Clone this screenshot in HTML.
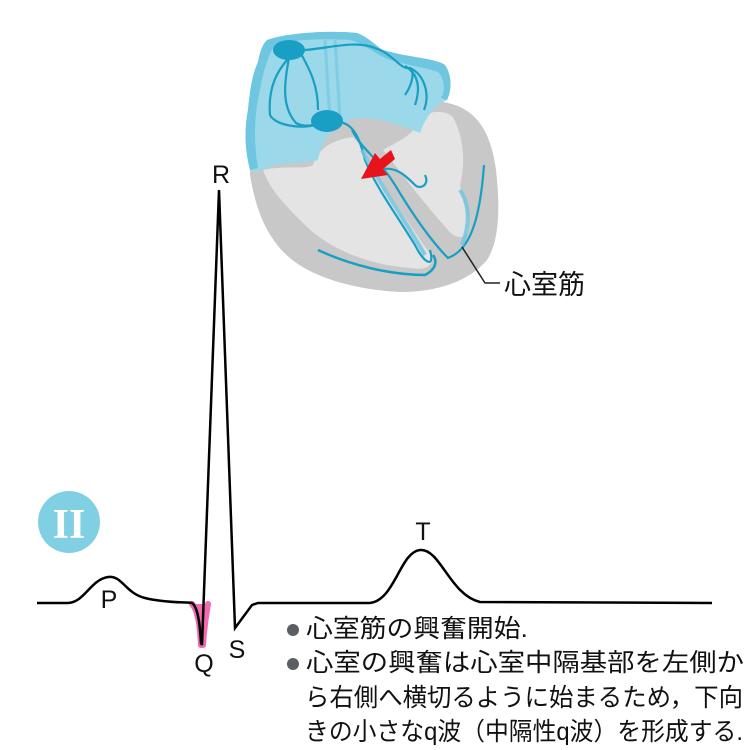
<!DOCTYPE html>
<html><head><meta charset="utf-8"><style>html,body{margin:0;padding:0;background:#fff}svg{display:block}</style></head><body>
<svg width="750" height="750" viewBox="0 0 750 750" xmlns="http://www.w3.org/2000/svg" font-family="'Liberation Sans','Noto Sans CJK JP',sans-serif">
<path d="M250,175 L252,120 L300,105 L420,100 C440,100 455,104 462,108 C482,118 492,140 496,170 C500,205 500,240 487,260 C470,280 440,292 400,292 C360,290 320,280 295,262 C265,240 255,205 250,175 Z" fill="#c8c8c8"/>
<path d="M263,170 C285,165 305,170 313,165 C318,150 330,140 353,137 C365,150 372,165 380,180 C400,210 420,240 433,258 C430,268 425,270 410,268 C370,265 330,250 305,225 C285,205 270,190 263,170 Z" fill="#e4e4e4"/>
<path d="M383,150 C400,140 415,135 420,118 C430,110 445,110 453,117 C465,140 465,165 460,185 C462,200 470,215 468,232 C462,240 455,238 448,230 C430,210 410,185 395,165 Z" fill="#e4e4e4"/>
<path d="M267,40 C285,33 330,30 357,33 C370,38 378,48 383,50 C410,58 435,58 445,65 C452,75 452,90 447,100 C435,105 425,118 420,133 C400,125 380,118 360,118 C335,120 322,140 318,160 C300,165 280,160 258,172 L250,170 C245,150 244,130 248,110 C250,90 252,75 258,62 C260,52 262,45 267,40 Z" fill="#9bd8ea"/>
<path d="M267,40 C285,33 330,30 357,33 C370,38 378,48 383,50 C410,58 435,58 445,65 C452,75 452,90 447,100 L441,98 C446,90 444,78 438,72 C420,66 400,64 385,58 C370,50 360,42 350,40 C320,38 290,40 275,45 C265,60 262,80 258,100 C254,120 254,145 258,168 L250,170 C245,150 244,130 248,110 C250,90 252,75 258,62 C260,52 262,45 267,40 Z" fill="#6ec6e0"/>
<path d="M325,40 L330,120 M335,40 L340,118" stroke="#7fcde4" stroke-width="3" fill="none"/>
<g stroke="#1a9fc4" fill="none" stroke-width="2.2">
<path d="M290,52 C285,80 280,105 296,123 C305,128 315,125 322,122"/>
<path d="M300,52 C310,70 318,85 318,110"/>
<path d="M295,52 C275,70 268,90 270,115 C275,125 300,130 320,124"/>
<path d="M305,50 C330,48 355,40 375,48 C395,55 400,70 410,68 C415,72 412,85 405,95"/>
<path d="M405,66 C420,75 420,90 415,105 M410,68 C425,75 430,95 424,110"/>
<path d="M340,122 C355,125 360,140 365,160 C375,185 390,205 415,245 C425,265 435,268 430,250"/>
<path d="M352,130 C362,150 380,160 395,185 C410,210 430,240 448,258 C470,250 480,220 484,165"/>
<path d="M378,170 C395,165 405,175 415,185 C420,190 430,185 425,175"/>
<path d="M318,250 C350,265 390,275 425,275 C435,270 438,262 433,255" stroke-width="2.5"/>
</g>
<g stroke="#6ec6e0" fill="none" stroke-width="4" opacity="0.8">
<path d="M362,150 C380,185 405,220 425,255"/>
<path d="M460,190 C470,205 470,225 462,245"/>
</g>
<ellipse cx="289" cy="50" rx="16" ry="10" fill="#1a9fc4"/>
<ellipse cx="327" cy="121" rx="16" ry="11" fill="#1a9fc4"/>
<path d="M391,150 L380,159 L375,153 L361,179 L388,175 L383,169 L395,159 Z" fill="#e8141c"/>
<path d="M462,247 L485,283 L500,283" stroke="#222" stroke-width="1.5" fill="none"/>
<text x="504" y="294" font-size="27" fill="#111">心室筋</text>
<circle cx="69" cy="522" r="31" fill="#80cfe2"/>
<text x="69" y="538" font-size="42" text-anchor="middle" fill="#fff" font-family="'Liberation Serif',serif" font-weight="bold">II</text>
<path d="M192,604 C198,610 200,625 201,645 M208,604 C206,615 204,630 203,645" stroke="#f06ab0" stroke-width="6" fill="none" stroke-linecap="round"/>
<path d="M194,604 L207,604 L203,645 L200,645 Z" fill="#f06ab0"/>
<path d="M37,603 L68,603 C85,602 90,580 108,577 C122,575 125,593 145,598 C165,603 185,602 192,603 C198,607 200,625 201,643 L202,645 L219,190 L235,628 L252,605 L258,603 L370,603 C395,600 400,552 420,550 C440,548 450,595 480,602 L712,603" fill="none" stroke="#000" stroke-width="2.5" stroke-linejoin="miter"/>
<g font-size="25" fill="#111">
<text x="221" y="183" text-anchor="middle">R</text>
<text x="109" y="608" text-anchor="middle">P</text>
<text x="204" y="672" text-anchor="middle">Q</text>
<text x="237" y="658" text-anchor="middle">S</text>
<text x="423" y="540" text-anchor="middle">T</text>
</g>
<circle cx="293" cy="630" r="6" fill="#5b5f63"/>
<circle cx="293" cy="664" r="6" fill="#5b5f63"/>
<g font-size="25" fill="#111">
<text x="306" y="637" textLength="222" lengthAdjust="spacingAndGlyphs">心室筋の興奮開始.</text>
<text x="306" y="671" textLength="438" lengthAdjust="spacingAndGlyphs">心室の興奮は心室中隔基部を左側か</text>
<text x="305" y="706" textLength="438" lengthAdjust="spacingAndGlyphs">ら右側へ横切るように始まるため，下向</text>
<text x="305" y="740" textLength="438" lengthAdjust="spacingAndGlyphs">きの小さなq波（中隔性q波）を形成する.</text>
</g>
</svg>
</body></html>
